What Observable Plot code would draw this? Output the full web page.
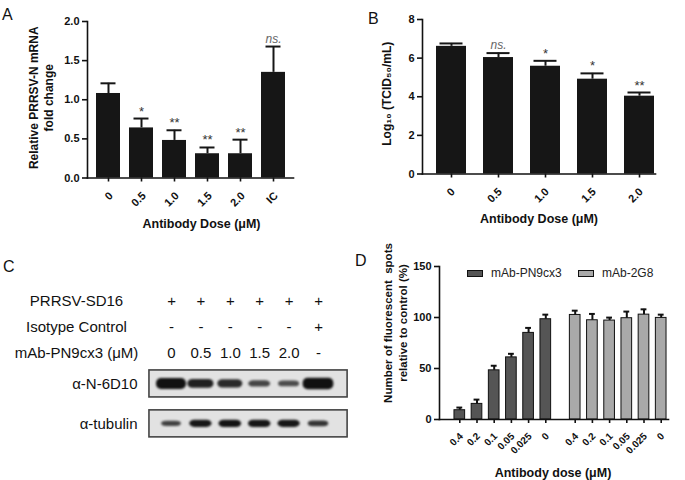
<!DOCTYPE html>
<html><head><meta charset="utf-8">
<script src="https://cdn.jsdelivr.net/npm/d3@7"></script>
<script src="https://cdn.jsdelivr.net/npm/@observablehq/plot@0.6"></script>
<style>
body{margin:0;background:#fff;}
#fig{position:relative;width:685px;height:480px;overflow:hidden;font-family:"Liberation Sans",Arial,sans-serif;background:#fff;}
.panel{position:absolute;}
.letter{position:absolute;font-size:16px;line-height:16px;color:#111;}
.leg{position:absolute;font-size:12px;line-height:12px;color:#222;display:flex;align-items:center;}
.sw{display:inline-block;width:14px;height:5px;border:1px solid #111;margin-right:8px;}
</style></head><body><div id="fig"></div>
<script>
// ---------- Panel A data ----------
const doseA = ["0", "0.5", "1.0", "1.5", "2.0", "IC"];
const meanA = [1.08, 0.64, 0.48, 0.31, 0.31, 1.35];
const errA  = [0.13, 0.12, 0.13, 0.08, 0.18, 0.33];
const sigA  = ["", "*", "**", "**", "**", "ns."];
const yTicksA = [0, 0.5, 1.0, 1.5, 2.0];
const yLabelA = "Relative PRRSV-N mRNA\nfold change";
const xLabelA = "Antibody Dose (μM)";

// ---------- Panel B data ----------
const doseB = ["0", "0.5", "1.0", "1.5", "2.0"];
const meanB = [6.61, 6.03, 5.58, 4.91, 4.03];
const errB  = [0.15, 0.23, 0.28, 0.30, 0.19];
const sigB  = ["", "ns.", "*", "*", "**"];
const yTicksB = [0, 2, 4, 6, 8];
const yLabelB = "Log₁₀ (TCID₅₀/mL)";
const xLabelB = "Antibody Dose (μM)";

// ---------- Panel C data ----------
const rowLabelsC = ["PRRSV-SD16", "Isotype Control", "mAb-PN9cx3 (μM)"];
const virusC   = ["+", "+", "+", "+", "+", "+"];
const isotypeC = ["-", "-", "-", "-", "-", "+"];
const mabC     = ["0", "0.5", "1.0", "1.5", "2.0", "-"];
const blotLabelsC = ["α-N-6D10", "α-tubulin"];
const densityN   = [1.0, 0.72, 0.64, 0.42, 0.36, 1.05];
const densityTub = [0.45, 0.78, 0.82, 0.8, 0.78, 0.55];

// ---------- Panel D data ----------
const doseD = ["0.4", "0.2", "0.1", "0.05", "0.025", "0"];
const groupsD = ["mAb-PN9cx3", "mAb-2G8"];
const meanPN  = [9.1, 15.3, 48.2, 60.9, 84.9, 98.3];
const errPN   = [2.6, 4.2, 4.5, 3.5, 4.9, 4.5];
const mean2G8 = [102.5, 97.3, 97.0, 99.3, 102.8, 99.6];
const err2G8  = [4.2, 6.2, 2.9, 6.5, 5.2, 3.2];
const yTicksD = [0, 50, 100, 150];
const yLabelD = "Number of fluorescent  spots\nrelative to control (%)";
const xLabelD = "Antibody dose (μM)";
const colorsD = ["#555555", "#a9a9a9"];

const FONT = "Liberation Sans, Arial, sans-serif";
const fig = document.getElementById("fig");
function place(node, left, top) {
  const d = document.createElement("div");
  d.className = "panel"; d.style.left = left + "px"; d.style.top = top + "px";
  d.appendChild(node); fig.appendChild(d);
}
function letter(t, left, top) {
  const d = document.createElement("div");
  d.className = "letter"; d.textContent = t;
  d.style.left = left + "px"; d.style.top = top + "px"; fig.appendChild(d);
}

function barPanel(opts) {
  const data = opts.cats.map((c, i) => ({cat: c, mean: opts.mean[i], err: opts.err[i], sig: opts.sig[i]}));
  return Plot.plot({
    width: opts.width, height: 240,
    marginLeft: opts.ml, marginRight: opts.mr, marginTop: opts.mt, marginBottom: opts.mb,
    style: {fontFamily: FONT, fontWeight: "bold", fontSize: "11px", color: "#111", background: "transparent"},
    x: {type: "band", domain: opts.cats, range: opts.range, paddingInner: opts.pad, paddingOuter: 0},
    y: {domain: opts.ydom, nice: false},
    marks: [
      Plot.barY(data, {x: "cat", y: "mean", fill: "#161616"}),
      Plot.ruleX(data, {x: "cat", y1: "mean", y2: d => d.mean + d.err, stroke: "#161616", strokeWidth: 2}),
      Plot.tickY(data, {x: "cat", y: d => d.mean + d.err, stroke: "#161616", strokeWidth: 2, insetLeft: opts.cap, insetRight: opts.cap}),
      Plot.text(data.filter(d => d.sig === "ns."), {x: "cat", y: d => d.mean + d.err, text: "sig", lineAnchor: "bottom", dy: -4, fontStyle: "italic", fontWeight: "normal", fill: "#666", fontSize: 12}),
      Plot.text(data.filter(d => d.sig && d.sig !== "ns."), {x: "cat", y: d => d.mean + d.err, text: "sig", lineAnchor: "bottom", dy: -3, fontWeight: "normal", fill: "#333", fontSize: 13}),
      Plot.frame({anchor: "bottom", stroke: "#111", strokeWidth: 1.6}),
      Plot.frame({anchor: "left", stroke: "#111", strokeWidth: 1.6}),
      Plot.axisY({ticks: opts.yticks, tickFormat: opts.yfmt, tickSize: 5, tickPadding: 3, label: null, strokeWidth: 1.6, fontSize: 11}),
      Plot.axisX({tickSize: 4, tickFormat: () => "", label: null, strokeWidth: 1.6}),
      Plot.text(data, {x: "cat", text: "cat", frameAnchor: "bottom", rotate: -45, textAnchor: "end", lineAnchor: "middle", dx: opts.tdx, dy: opts.tdy, fontSize: 11}),
      Plot.text([opts.ylabel], {text: d => d, frameAnchor: "left", textAnchor: "middle", lineAnchor: "middle", rotate: -90, dx: opts.ydx, dy: opts.ydy, fontSize: 12, lineHeight: 1.3}),
      Plot.text([opts.xlabel], {text: d => d, frameAnchor: "bottom", textAnchor: "middle", dx: opts.xdx, dy: opts.xdy, fontSize: 12.5})
    ]
  });
}

// Panel A
place(barPanel({cats: doseA, mean: meanA, err: errA, sig: sigA, width: 340, ml: 87, mr: 47, mt: 21, mb: 62.5,
  range: [94, 288], pad: 0.26, cap: 4.5, ydom: [0, 2], yticks: yTicksA, yfmt: d3.format(".1f"),
  tdx: 2.5, tdy: 16,
  ylabel: yLabelA, ydx: -47, ydy: -2, xlabel: xLabelA, xdx: 11, xdy: 49.5}), 0, 0);

// Panel B
place(barPanel({cats: doseB, mean: meanB, err: errB, sig: sigB, width: 345, ml: 82, mr: 30, mt: 19, mb: 66.5,
  range: [95, 315], pad: 0.37, cap: 3.5, ydom: [0, 8], yticks: yTicksB, yfmt: d3.format("d"),
  tdx: 1.5, tdy: 16,
  ylabel: yLabelB, ydx: -37, ydy: -3, xlabel: xLabelB, xdx: 0, xdy: 48.5}), 340, 0);

// Panel C (western blot schematic)
{
  const header = [];
  [virusC, isotypeC, mabC].forEach((arr, r) => arr.forEach((v, lane) => header.push({lane, row: r, v})));
  const rows = rowLabelsC.map((t, r) => ({t, row: r}));
  const blotRow = [3.22, 4.78];
  const blots = blotLabelsC.map((t, i) => ({t, row: blotRow[i]}));
  const bands = [];
  [densityN, densityTub].forEach((dens, b) => dens.forEach((v, lane) => bands.push({lane, b, v})));
  const pxX = 1 / 29.4, pxY = 1 / 25.6;
  const halfW = d => (d.b ? 8 + 4 * d.v : 8 + 7 * d.v) * pxX;
  const halfH = d => (d.b ? 1.2 + 3 * d.v : 1.5 + 4 * d.v) * pxY;
  const plotC = Plot.plot({
    width: 360, height: 240, margin: 0,
    style: {fontFamily: FONT, fontSize: "15px", color: "#111", background: "transparent"},
    x: {domain: [0, 5], range: [171, 318], axis: null},
    y: {domain: [0, 5], range: [61, 189], axis: null},
    marks: [
      Plot.text(rows, {y: "row", text: "t", frameAnchor: "left", dx: 76, textAnchor: "middle", fill: "#111"}),
      Plot.text(header, {x: "lane", y: "row", text: "v", fill: "#111"}),
      Plot.rect(blots, {x1: -0.75, x2: 5.99, y1: d => d.row - 13.5 * pxY, y2: d => d.row + 13.5 * pxY, fill: "#e2e2e2", stroke: "#444", strokeWidth: 1.6}),
      Plot.rect(bands, {
        x1: d => d.lane - halfW(d), x2: d => d.lane + halfW(d),
        y1: d => blotRow[d.b] - halfH(d), y2: d => blotRow[d.b] + halfH(d),
        rx: 5, fill: "#111", fillOpacity: d => Math.min(1, 0.5 + 0.6 * d.v), imageFilter: "blur(1.2px)"
      }),
      Plot.text(blots, {y: "row", text: "t", frameAnchor: "left", dx: 137, textAnchor: "end", fill: "#111"})
    ]
  });
  place(plotC, 0, 240);
}

// Panel D
{
  const gap = 1.71;
  const D = [];
  groupsD.forEach((g, gi) => doseD.forEach((d, i) => D.push({
    group: g, dose: d, pos: gi * (doseD.length - 1 + gap) + i,
    mean: gi ? mean2G8[i] : meanPN[i], err: gi ? err2G8[i] : errPN[i]
  })));
  const plotD = Plot.plot({
    width: 345, height: 240, marginLeft: 99, marginRight: 17, marginTop: 26, marginBottom: 61,
    style: {fontFamily: FONT, fontWeight: "bold", fontSize: "11px", color: "#111", background: "transparent"},
    x: {domain: [0, 11.71], range: [119.3, 320.7]},
    y: {domain: [0, 150], nice: false},
    color: {domain: groupsD, range: colorsD},
    marks: [
      Plot.rect(D, {x1: d => d.pos - 0.31, x2: d => d.pos + 0.31, y1: 0, y2: "mean", fill: "group", stroke: "#111", strokeWidth: 1}),
      Plot.ruleX(D, {x: "pos", y1: "mean", y2: d => d.mean + d.err, stroke: "#111", strokeWidth: 2}),
      Plot.ruleY(D, {y: d => d.mean + d.err, x1: d => d.pos - 0.17, x2: d => d.pos + 0.17, stroke: "#111", strokeWidth: 2}),
      Plot.frame({anchor: "bottom", stroke: "#111", strokeWidth: 1.6}),
      Plot.frame({anchor: "left", stroke: "#111", strokeWidth: 1.6}),
      Plot.axisY({ticks: yTicksD, tickSize: 5, tickPadding: 3, label: null, strokeWidth: 1.6, fontSize: 11}),
      Plot.axisX({ticks: D.map(d => d.pos), tickFormat: () => "", tickSize: 4, label: null, strokeWidth: 1.6}),
      Plot.text(D, {x: "pos", text: "dose", frameAnchor: "bottom", rotate: -45, textAnchor: "end", lineAnchor: "middle", dx: 1.5, dy: 15, fontSize: 10}),
      Plot.text([yLabelD], {text: d => d, frameAnchor: "left", textAnchor: "middle", lineAnchor: "middle", rotate: -90, dx: -45, dy: -20, fontSize: 11.5, lineHeight: 1.3}),
      Plot.text([xLabelD], {text: d => d, frameAnchor: "bottom", textAnchor: "middle", dx: -1, dy: 57, fontSize: 12.5})
    ]
  });
  place(plotD, 340, 240);
  // legend
  groupsD.forEach((g, i) => {
    const l = document.createElement("div");
    l.className = "leg";
    l.style.left = (i ? 578 : 467) + "px"; l.style.top = "267px";
    const s = document.createElement("span"); s.className = "sw"; s.style.background = colorsD[i];
    l.appendChild(s); l.appendChild(document.createTextNode(g));
    fig.appendChild(l);
  });
}

letter("A", 2, 6.5);
letter("B", 368, 10.5);
letter("C", 3, 258.5);
letter("D", 355, 253);
</script></body></html>
